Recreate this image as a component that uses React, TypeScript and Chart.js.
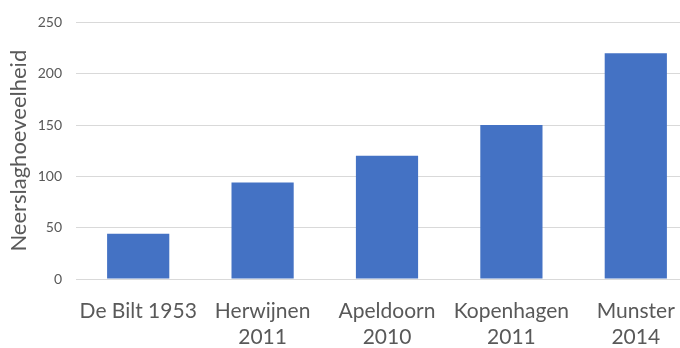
import React, { useEffect, useRef } from "react";
import { Chart, registerables } from "chart.js";

Chart.register(...registerables);

const categories: (string | string[])[] = [
  "De Bilt 1953",
  ["Herwijnen", "2011"],
  ["Apeldoorn", "2010"],
  ["Kopenhagen", "2011"],
  ["Munster", "2014"],
];
const values: number[] = [44, 94, 120, 150, 220];
const yTitle = "Neerslaghoeveelheid";

export default function App() {
  const ref = useRef<HTMLCanvasElement | null>(null);
  useEffect(() => {
    if (!ref.current) return;
    const chart = new Chart(ref.current, {
      type: "bar",
      data: {
        labels: categories,
        datasets: [
          {
            data: values,
            backgroundColor: "#4472C4",
            borderWidth: 0,
            categoryPercentage: 1,
            barPercentage: 0.5,
          },
        ],
      },
      options: {
        animation: false,
        responsive: false,
        maintainAspectRatio: false,
        layout: { padding: { top: 19, right: 2, left: 0, bottom: 0 } },
        plugins: { legend: { display: false }, tooltip: { enabled: false } },
        scales: {
          x: {
            grid: { display: false, drawTicks: false },
            border: { display: false },
            ticks: {
              color: "#595959",
              font: { family: "Lato", size: 21 },
              padding: 20,
              maxRotation: 0,
              autoSkip: false,
            },
            afterFit: (s: any) => {
              s.height = 69;
            },
          },
          y: {
            min: 0,
            max: 250,
            ticks: {
              stepSize: 50,
              color: "#595959",
              font: { family: "Lato", size: 14 },
              padding: 14,
            },
            grid: { color: "#D9D9D9", drawTicks: false, lineWidth: 1 },
            border: { display: false },
            title: {
              display: true,
              text: yTitle,
              color: "#595959",
              font: { family: "Lato", size: 22 },
              padding: { top: 6, bottom: 0 },
            },
            afterFit: (s: any) => {
              s.width = 76;
            },
          },
        },
      },
    });
    return () => chart.destroy();
  }, []);
  return (
    <div
      style={{
        position: "fixed",
        left: 0,
        top: 0,
        width: 680,
        height: 348,
        overflow: "hidden",
        background: "#fff",
      }}
    >
      <canvas ref={ref} width={700} height={348} style={{ display: "block" }} />
    </div>
  );
}
